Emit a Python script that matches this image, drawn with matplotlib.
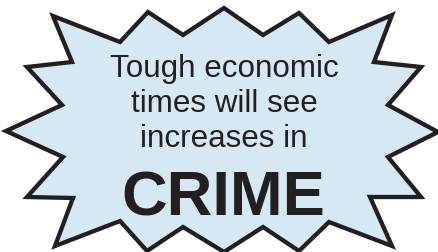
import matplotlib
matplotlib.use("Agg")
import matplotlib.pyplot as plt
from matplotlib.patches import Polygon

# Starburst outline vertices (pixel space of the 439x252 picture)
star_x = [224, 263, 299, 329, 392, 374, 421, 388, 438, 388, 421, 370, 392, 329, 299, 263,
          224, 183, 147, 120, 55, 73, 27, 63, 6, 62, 27, 72, 53, 120, 148, 183]
star_y = [8, 35, 13, 42, 15, 62, 67, 105, 132, 157, 197, 197, 246, 222, 251, 227,
          252, 227, 251, 221, 246, 198, 197, 157, 131, 105, 67, 62, 16, 42, 12, 35]

lines = ["Tough economic", "times will see", "increases in"]
line_baselines = [77, 112, 147]
headline = "CRIME"
headline_baseline = 215

W, H = 439, 252
fig = plt.figure(figsize=(W / 100, H / 100), dpi=100)
ax = fig.add_axes([0, 0, 1, 1])
ax.set_xlim(0, W)
ax.set_ylim(H, 0)
ax.axis("off")

fill = "#d6e8f4"
ink = "#231f20"
poly = Polygon(list(zip(star_x, star_y)), closed=True, facecolor=fill, edgecolor=ink,
               linewidth=3.1, joinstyle="miter")
ax.add_patch(poly)

for txt, yb in zip(lines, line_baselines):
    ax.text(224, yb, txt, ha="center", va="baseline", fontsize=22.6,
            family="Liberation Sans", color=ink)
ax.text(223, headline_baseline, headline, ha="center", va="baseline", fontsize=45.5,
        family="Liberation Sans", fontweight="bold", color=ink)

fig.savefig("out.png", dpi=100)
